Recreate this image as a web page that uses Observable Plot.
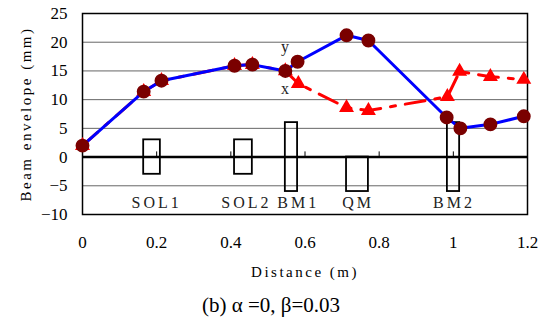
<!DOCTYPE html>
<html>
<head>
<meta charset="utf-8">
<script src="https://cdn.jsdelivr.net/npm/d3@7"></script>
<script src="https://cdn.jsdelivr.net/npm/@observablehq/plot@0.6"></script>
<style>
  body { margin: 0; background: #fff; }
  #chart svg { display: block; }
  #chart svg text { font-family: "Liberation Serif", serif !important; }
  #chart svg .elem-label text { letter-spacing: 3px; }
  .cap { width: 542px; text-align: center; font-family: "Liberation Serif", serif; font-size: 21px; line-height: 41px; height: 41px; }
</style>
</head>
<body>
<div id="chart"></div>
<div class="cap">(b) α =0, β=0.03</div>
<script>
// y envelope (blue, circles)
const yDist = [0, 0.165, 0.213, 0.41, 0.458, 0.547, 0.58, 0.712, 0.771, 0.982, 1.019, 1.10, 1.19];
const yEnv  = [2, 11.4, 13.3, 15.9, 16.1, 15.0, 16.6, 21.2, 20.3, 6.9, 5.0, 5.7, 7.1];
// x envelope (red, triangles)
const xDist = [0, 0.165, 0.213, 0.41, 0.458, 0.547, 0.582, 0.712, 0.771, 0.984, 1.017, 1.10, 1.19];
const xEnv  = [2, 11.4, 13.3, 15.9, 16.1, 15.0, 12.8, 8.6, 8.1, 10.5, 14.9, 14.0, 13.5];
// magnet elements
const elemNames = ["SOL1", "SOL2", "BM1", "QM", "BM2"];
const elemStart = [0.165, 0.41, 0.547, 0.712, 0.984];
const elemEnd   = [0.21, 0.458, 0.58, 0.771, 1.017];
const elemTop   = [3, 3, 6, 0, 6];
const elemBot   = [-3, -3, -6, -6, -6];
const elemLabelX = [0.2, 0.442, 0.582, 0.743, 1.002];
const elemLabelY = -7.9;
// axis ticks
const xTicks = [0, 0.2, 0.4, 0.6, 0.8, 1, 1.2];
const yTicks = [-10, -5, 0, 5, 10, 15, 20, 25];
const gridVals = [-5, 5, 10, 15, 20];
// series labels
const seriesLabels = ["y", "x"];
const seriesLabelX = [0.535, 0.535];
const seriesLabelY = [19.2, 11.8];

const yData = yDist.map((d, i) => ({d, v: yEnv[i]}));
const xData = xDist.map((d, i) => ({d, v: xEnv[i]}));
const elems = elemNames.map((n, i) => ({n, x1: elemStart[i], x2: elemEnd[i], y1: elemBot[i], y2: elemTop[i], lx: elemLabelX[i]}));
const sl = seriesLabels.map((t, i) => ({t, x: seriesLabelX[i], y: seriesLabelY[i]}));

const serif = "Liberation Serif, serif";

const chart = Plot.plot({
  width: 542,
  height: 285,
  marginLeft: 82,
  marginRight: 15,
  marginTop: 13,
  marginBottom: 71,
  style: {fontFamily: serif, fontSize: "17px", color: "#000", background: "#fff"},
  x: {domain: [0, 1.2]},
  y: {domain: [-10, 25]},
  marks: [
    Plot.ruleY(gridVals, {stroke: "#666", strokeWidth: 1}),
    Plot.frame({stroke: "#000", strokeWidth: 1.5}),
    Plot.ruleY([0], {stroke: "#000", strokeWidth: 2.5}),
    Plot.ruleX(xTicks.slice(1, -1), {y1: 0, y2: 0.9, stroke: "#000", strokeWidth: 1}),
    Plot.rect(elems, {x1: "x1", x2: "x2", y1: "y1", y2: "y2", fill: "none", stroke: "#000", strokeWidth: 1.8}),
    Plot.text(elems, {x: "lx", y: elemLabelY, text: "n", fontSize: 16, fill: "#222", className: "elem-label"}),
    Plot.line(xData, {x: "d", y: "v", stroke: "#ff0000", strokeWidth: 3, strokeDasharray: "20,10,5,10"}),
    Plot.dot(xData, {x: "d", y: "v", symbol: "triangle", r: 4.6, fill: "#ff0000", stroke: "#ff0000"}),
    Plot.line(yData, {x: "d", y: "v", stroke: "#0000ff", strokeWidth: 3}),
    Plot.dot(yData, {x: "d", y: "v", r: 6.2, fill: "#7a0000", stroke: "#7a0000"}),
    Plot.text(sl, {x: "x", y: "y", text: "t", fontSize: 16, fill: "#222", textAnchor: "start"}),
    Plot.axisY(yTicks, {tickSize: 0, tickPadding: 15, label: "Beam envelope (mm)", labelAnchor: "center", labelArrow: "none", labelOffset: 62, fontSize: 17}),
    Plot.axisX(xTicks, {tickSize: 0, tickPadding: 21, tickFormat: d => String(d), label: "Distance (m)", labelAnchor: "center", labelArrow: "none", labelOffset: 62, fontSize: 17})
  ]
});
document.getElementById("chart").appendChild(chart);
// letter spacing for axis titles
d3.select(chart).selectAll("[aria-label='y-axis label'] text, [aria-label='x-axis label'] text").style("letter-spacing", "2.5px").style("font-size", "15px");
</script>
</body>
</html>
